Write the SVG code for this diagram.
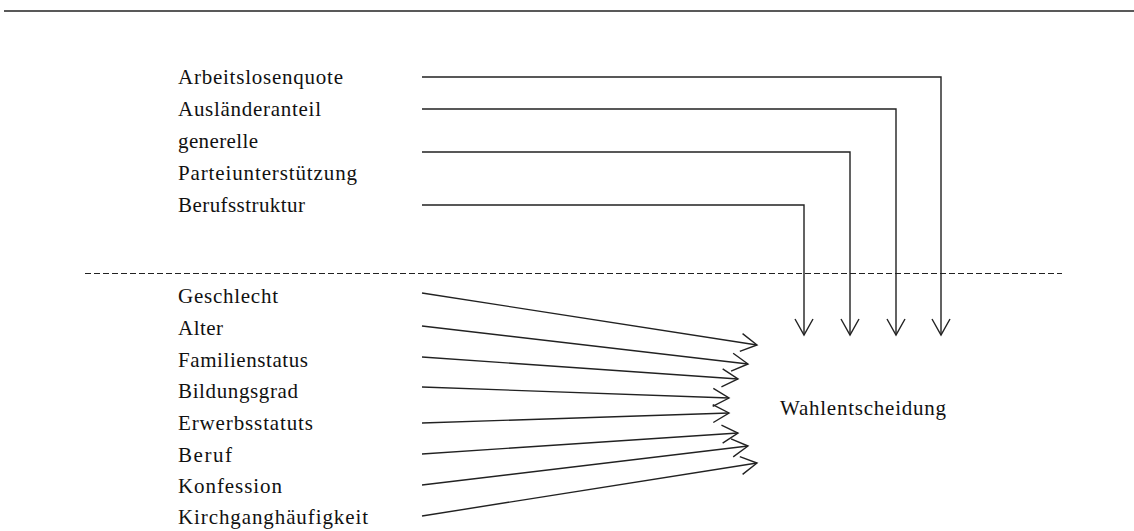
<svg xmlns="http://www.w3.org/2000/svg" width="1134" height="531" viewBox="0 0 1134 531">
<style>
text{font-family:"Liberation Serif","Times New Roman",serif;font-size:21px;fill:#111}
.c{fill:none;stroke:#222;stroke-width:1.4}
.r{stroke:#222;stroke-width:1.6}
.d{stroke:#222;stroke-width:1;stroke-dasharray:6 3}
</style>
<defs>
<marker id="v" markerUnits="userSpaceOnUse" markerWidth="24" markerHeight="24" viewBox="-20 -12 24 24" refX="0" refY="0" orient="auto">
<path d="M-16,-9 L0,0 L-16,9" fill="none" stroke="#222" stroke-width="1.4"/>
</marker>
</defs>
<rect width="1134" height="531" fill="#fff"/>
<line class="r" x1="4" y1="11" x2="1134" y2="11"/>
<line class="d" x1="85" y1="273.5" x2="1062" y2="273.5"/>
<g id="n-arbeitslosenquote"><text x="178" y="84" textLength="165" lengthAdjust="spacing">Arbeitslosenquote</text></g>
<g id="n-auslaenderanteil"><text x="178" y="116" textLength="143" lengthAdjust="spacing">Ausländeranteil</text></g>
<g id="n-parteiunterstuetzung"><text x="178" y="148" textLength="80" lengthAdjust="spacing">generelle</text><text x="178" y="180" textLength="179" lengthAdjust="spacing">Parteiunterstützung</text></g>
<g id="n-berufsstruktur"><text x="178" y="212" textLength="127" lengthAdjust="spacing">Berufsstruktur</text></g>
<g id="n-geschlecht"><text x="178" y="303" textLength="100" lengthAdjust="spacing">Geschlecht</text></g>
<g id="n-alter"><text x="178" y="335" textLength="45" lengthAdjust="spacing">Alter</text></g>
<g id="n-familienstatus"><text x="178" y="367" textLength="130" lengthAdjust="spacing">Familienstatus</text></g>
<g id="n-bildungsgrad"><text x="178" y="398" textLength="120" lengthAdjust="spacing">Bildungsgrad</text></g>
<g id="n-erwerbsstatuts"><text x="178" y="430" textLength="135" lengthAdjust="spacing">Erwerbsstatuts</text></g>
<g id="n-beruf"><text x="178" y="462" textLength="54" lengthAdjust="spacing">Beruf</text></g>
<g id="n-konfession"><text x="178" y="493" textLength="104" lengthAdjust="spacing">Konfession</text></g>
<g id="n-kirchgang"><text x="178" y="524" textLength="190" lengthAdjust="spacing">Kirchganghäufigkeit</text></g>
<g id="n-wahlentscheidung"><text x="780" y="415" textLength="166" lengthAdjust="spacing">Wahlentscheidung</text></g>
<g id="connectors">
<path class="c" d="M422,77 H941 V335" marker-end="url(#v)"/>
<path class="c" d="M422,109 H896 V335" marker-end="url(#v)"/>
<path class="c" d="M422,152 H850 V335" marker-end="url(#v)"/>
<path class="c" d="M422,205 H804 V335" marker-end="url(#v)"/>
<line class="c" x1="422" y1="293" x2="757" y2="345" marker-end="url(#v)"/>
<line class="c" x1="422" y1="326" x2="748" y2="364" marker-end="url(#v)"/>
<line class="c" x1="422" y1="357" x2="738" y2="379" marker-end="url(#v)"/>
<line class="c" x1="422" y1="387" x2="729" y2="398" marker-end="url(#v)"/>
<line class="c" x1="422" y1="423" x2="729" y2="413" marker-end="url(#v)"/>
<line class="c" x1="422" y1="454" x2="738" y2="433" marker-end="url(#v)"/>
<line class="c" x1="422" y1="485" x2="748" y2="446" marker-end="url(#v)"/>
<line class="c" x1="422" y1="516" x2="757" y2="463" marker-end="url(#v)"/>
</g>
</svg>
